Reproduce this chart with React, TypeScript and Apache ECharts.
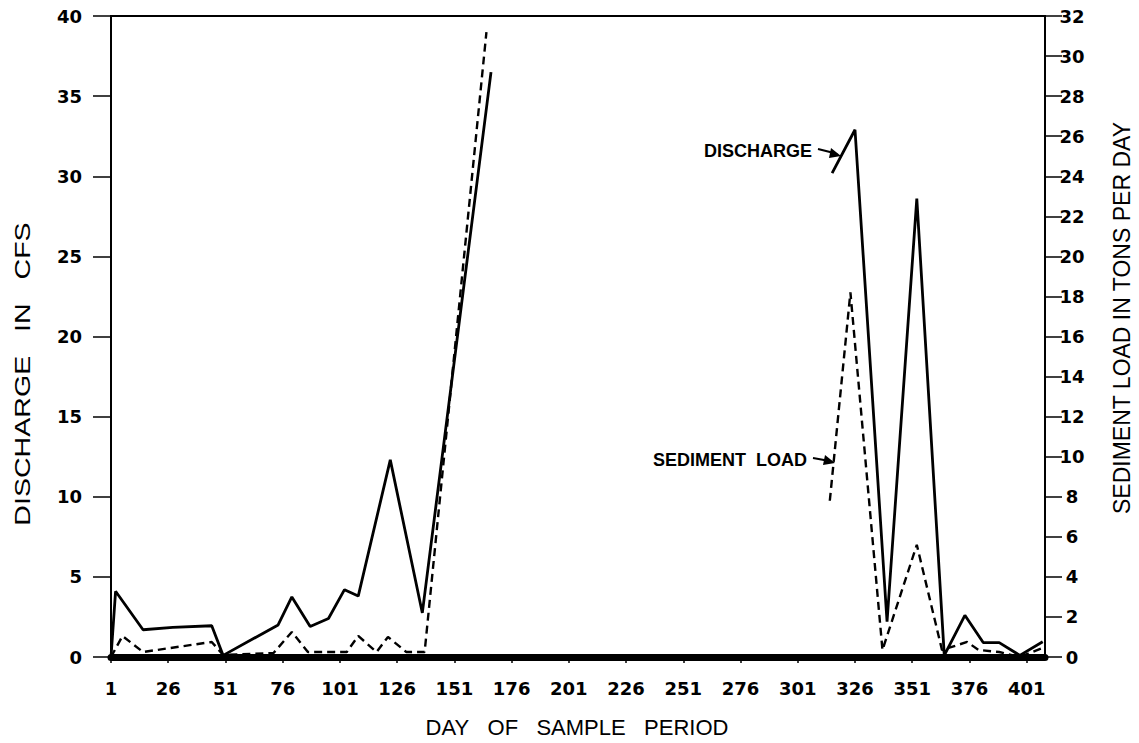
import React, { useEffect, useRef } from "react";
import * as echarts from "echarts";

// ---- Data ----
const xTickDays = [1, 26, 51, 76, 101, 126, 151, 176, 201, 226, 251, 276, 301, 326, 351, 376, 401];
const leftTicks = [0, 5, 10, 15, 20, 25, 30, 35, 40];
const rightTicks = [0, 2, 4, 6, 8, 10, 12, 14, 16, 18, 20, 22, 24, 26, 28, 30, 32];

// Discharge in CFS (solid, left axis)
const dischargeDaysA = [1, 3, 15, 28, 45, 50, 74, 80, 88, 96, 103, 109, 123, 137, 167];
const dischargeCfsA = [0, 4.1, 1.7, 1.85, 1.95, 0.1, 2.0, 3.75, 1.9, 2.4, 4.2, 3.8, 12.3, 2.75, 36.5];
const dischargeDaysB = [316, 326, 340, 353, 365, 374, 382, 389, 398, 408];
const dischargeCfsB = [30.2, 32.9, 2.2, 28.6, 0.1, 2.6, 0.9, 0.9, 0.1, 0.95];

// Sediment load in tons per day (dashed, right axis)
const sedimentDaysA = [1, 6, 15, 45, 50, 72, 80, 87, 104, 109, 117, 122, 130, 138, 165];
const sedimentTonsA = [0, 1.05, 0.25, 0.75, 0.1, 0.2, 1.25, 0.25, 0.25, 1.05, 0.25, 1.0, 0.25, 0.25, 31.2];
const sedimentDaysB = [315, 324, 338, 353, 364, 375, 380, 389, 398, 408];
const sedimentTonsB = [7.8, 18.2, 0.35, 5.6, 0.35, 0.75, 0.35, 0.25, 0, 0.45];

const zip = (xs: number[], ys: number[]) => xs.map((x, i) => [x, ys[i]]);

export default function App() {
  const ref = useRef<HTMLDivElement>(null);

  useEffect(() => {
    if (!ref.current) return;
    const chart = echarts.init(ref.current, undefined, { renderer: "svg" });
    const tickFont = {
      color: "#000",
      fontFamily: "DejaVu Sans",
      fontWeight: "bold" as const,
      fontSize: 18,
    };
    const solid = { color: "#000", width: 2.8, type: "solid" as const };
    const dashed = { color: "#000", width: 2.4, type: [8, 5] as any };
    const nb = "\u00a0";
    const gap3 = nb + nb + nb;

    chart.setOption({
      animation: false,
      backgroundColor: "#fff",
      grid: {
        left: 111,
        right: 94,
        top: 16,
        bottom: 86,
        show: true,
        borderColor: "#000",
        borderWidth: 2,
        backgroundColor: "transparent",
      },
      xAxis: {
        type: "value",
        min: 1,
        max: 409,
        splitLine: { show: false },
        axisLine: { show: true, lineStyle: { color: "#000", width: 7 } },
        axisTick: {
          show: true,
          inside: false,
          length: 6,
          lineStyle: { color: "#000", width: 1.5 },
          customValues: xTickDays,
        },
        axisLabel: { ...tickFont, margin: 22, customValues: xTickDays },
      },
      yAxis: [
        {
          type: "value",
          min: leftTicks[0],
          max: leftTicks[leftTicks.length - 1],
          interval: 5,
          position: "left",
          splitLine: { show: false },
          axisLine: { show: true, lineStyle: { color: "#000", width: 2 } },
          axisTick: { show: true, inside: false, length: 18, lineStyle: { color: "#000", width: 1.5 } },
          axisLabel: { ...tickFont, margin: 29 },
        },
        {
          type: "value",
          min: rightTicks[0],
          max: rightTicks[rightTicks.length - 1],
          interval: 2,
          position: "right",
          splitLine: { show: false },
          axisLine: { show: true, lineStyle: { color: "#000", width: 2 } },
          axisTick: { show: true, inside: false, length: 17, lineStyle: { color: "#000", width: 1.5 } },
          axisLabel: { ...tickFont, margin: 27, align: "center" },
        },
      ],
      series: [
        {
          name: "Discharge",
          type: "line",
          yAxisIndex: 0,
          data: zip(dischargeDaysA, dischargeCfsA),
          showSymbol: false,
          symbol: "none",
          lineStyle: solid,
          z: 3,
        },
        {
          name: "Discharge (late)",
          type: "line",
          yAxisIndex: 0,
          data: zip(dischargeDaysB, dischargeCfsB),
          showSymbol: false,
          symbol: "none",
          lineStyle: solid,
          z: 3,
        },
        {
          name: "Sediment load",
          type: "line",
          yAxisIndex: 1,
          data: zip(sedimentDaysA, sedimentTonsA),
          showSymbol: false,
          symbol: "none",
          lineStyle: dashed,
          z: 3,
        },
        {
          name: "Sediment load (late)",
          type: "line",
          yAxisIndex: 1,
          data: zip(sedimentDaysB, sedimentTonsB),
          showSymbol: false,
          symbol: "none",
          lineStyle: dashed,
          z: 3,
        },
      ],
      graphic: [
        {
          type: "text",
          x: 22,
          y: 374,
          rotation: Math.PI / 2,
          scaleX: 1.3,
          style: {
            text: `DISCHARGE${gap3}IN${gap3}CFS`,
            fill: "#000",
            font: "22px 'Liberation Sans'",
            align: "center",
            verticalAlign: "middle",
          },
        },
        {
          type: "text",
          x: 1122,
          y: 318,
          rotation: Math.PI / 2,
          style: {
            text: "SEDIMENT LOAD IN TONS PER DAY",
            fill: "#000",
            font: "23px 'Liberation Sans'",
            align: "center",
            verticalAlign: "middle",
          },
        },
        {
          type: "text",
          x: 577,
          y: 727,
          style: {
            text: `DAY${gap3}OF${gap3}SAMPLE${gap3}PERIOD`,
            fill: "#000",
            font: "22px 'Liberation Sans'",
            align: "center",
            verticalAlign: "middle",
          },
        },
        {
          type: "text",
          x: 812,
          y: 151,
          style: {
            text: "DISCHARGE",
            fill: "#000",
            font: "bold 18px 'Liberation Sans'",
            align: "right",
            verticalAlign: "middle",
          },
        },
        {
          type: "polyline",
          shape: { points: [[818, 149], [830, 152], [838, 155]] },
          style: { stroke: "#000", lineWidth: 2, fill: null },
        },
        {
          type: "polygon",
          shape: { points: [[841, 156], [831, 148], [829, 158]] },
          style: { fill: "#000" },
        },
        {
          type: "text",
          x: 807,
          y: 460,
          style: {
            text: `SEDIMENT${nb}${nb}LOAD`,
            fill: "#000",
            font: "bold 18px 'Liberation Sans'",
            align: "right",
            verticalAlign: "middle",
          },
        },
        {
          type: "polyline",
          shape: { points: [[813, 458], [824, 460], [832, 462]] },
          style: { stroke: "#000", lineWidth: 2, fill: null },
        },
        {
          type: "polygon",
          shape: { points: [[835, 463], [825, 455], [823, 465]] },
          style: { fill: "#000" },
        },
      ],
    });

    return () => chart.dispose();
  }, []);

  return (
    <div
      ref={ref}
      style={{ position: "fixed", left: 0, top: 0, width: 1139, height: 743, background: "#fff" }}
    />
  );
}
